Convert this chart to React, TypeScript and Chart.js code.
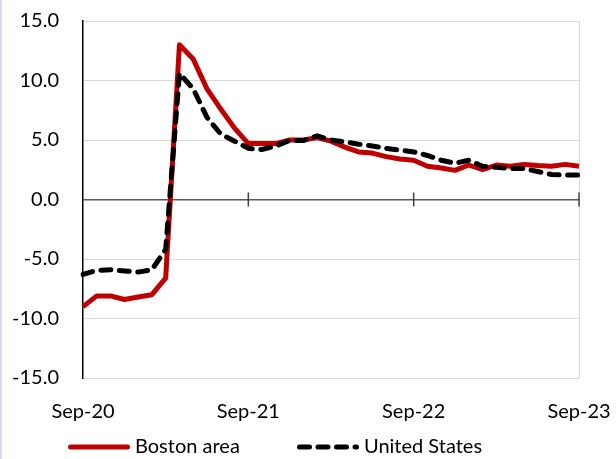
import React, { useEffect, useRef } from "react";
import { Chart, registerables } from "chart.js";

Chart.register(...registerables);

const months = [
  "Sep-20", "Oct-20", "Nov-20", "Dec-20", "Jan-21", "Feb-21", "Mar-21", "Apr-21", "May-21", "Jun-21", "Jul-21", "Aug-21",
  "Sep-21", "Oct-21", "Nov-21", "Dec-21", "Jan-22", "Feb-22", "Mar-22", "Apr-22", "May-22", "Jun-22", "Jul-22", "Aug-22",
  "Sep-22", "Oct-22", "Nov-22", "Dec-22", "Jan-23", "Feb-23", "Mar-23", "Apr-23", "May-23", "Jun-23", "Jul-23", "Aug-23",
  "Sep-23",
];

const bostonArea = [
  -9.0, -8.1, -8.1, -8.4, -8.2, -8.0, -6.6, 13.0, 11.8, 9.3, 7.6, 6.0,
  4.7, 4.7, 4.7, 5.0, 5.0, 5.2, 4.9, 4.4, 4.0, 3.9, 3.6, 3.4,
  3.3, 2.8, 2.65, 2.45, 2.9, 2.5, 2.9, 2.8, 2.95, 2.85, 2.8, 2.95,
  2.8,
];

const unitedStates = [
  -6.3, -5.95, -5.9, -6.0, -6.1, -5.9, -4.2, 10.6, 9.3, 6.9, 5.5, 4.9,
  4.3, 4.2, 4.5, 4.95, 4.95, 5.35, 5.0, 4.85, 4.65, 4.5, 4.3, 4.15,
  4.0, 3.7, 3.3, 3.05, 3.3, 2.8, 2.7, 2.6, 2.6, 2.35, 2.1, 2.05,
  2.05,
];

const seriesNames = ["Boston area", "United States"];
const yTicks = [-15, -10, -5, 0, 5, 10, 15];

const FONT = "Lato, 'Open Sans', sans-serif";
const RED = "#c00000";
const DASH = [10, 8.5];
const CLEAR = "rgba(0,0,0,0)";

const yearTicksPlugin = {
  id: "yearTicks",
  beforeDatasetsDraw(chart: any) {
    const { ctx, scales } = chart;
    const x = scales.x;
    const y = scales.y;
    const y0 = y.getPixelForValue(0);
    ctx.save();
    ctx.strokeStyle = "#404040";
    ctx.lineWidth = 1.5;
    months.forEach((m, i) => {
      if (m.startsWith("Sep") && i > 0) {
        const px = x.getPixelForValue(i);
        ctx.beginPath();
        ctx.moveTo(px, y0 - 7);
        ctx.lineTo(px, y0 + 7);
        ctx.stroke();
      }
    });
    ctx.restore();
  },
};

const legendPlugin = {
  id: "customLegend",
  afterDraw(chart: any) {
    const { ctx } = chart;
    const cy = 447;
    const items = [
      { x: 66, label: seriesNames[0], color: RED, dash: [] as number[] },
      { x: 295, label: seriesNames[1], color: "#000000", dash: DASH },
    ];
    ctx.save();
    items.forEach((it) => {
      ctx.beginPath();
      ctx.strokeStyle = it.color;
      ctx.lineWidth = 5;
      ctx.lineCap = "round";
      ctx.setLineDash(it.dash);
      ctx.moveTo(it.x + 2.5, cy);
      ctx.lineTo(it.x + 59.5, cy);
      ctx.stroke();
      ctx.setLineDash([]);
      ctx.fillStyle = "#000";
      ctx.font = `20px ${FONT}`;
      ctx.textBaseline = "middle";
      ctx.textAlign = "left";
      ctx.fillText(it.label, it.x + 67, cy);
    });
    ctx.restore();
  },
};

export default function App() {
  const ref = useRef<HTMLCanvasElement | null>(null);

  useEffect(() => {
    if (!ref.current) return;
    const chart = new Chart(ref.current, {
      type: "line",
      data: {
        labels: months,
        datasets: [
          {
            label: seriesNames[0],
            data: bostonArea,
            borderColor: RED,
            backgroundColor: RED,
            borderWidth: 5,
            pointRadius: 0,
            tension: 0,
            borderJoinStyle: "round",
            order: 1,
          },
          {
            label: seriesNames[1],
            data: unitedStates,
            borderColor: "#000000",
            backgroundColor: "#000000",
            borderWidth: 5,
            borderDash: DASH,
            borderCapStyle: "round",
            pointRadius: 0,
            tension: 0,
            order: 0,
          },
        ],
      },
      options: {
        animation: false,
        responsive: false,
        maintainAspectRatio: false,
        layout: { padding: { left: 5, right: 37, top: 21, bottom: 0 } },
        plugins: {
          legend: { display: false },
          tooltip: { enabled: false },
        },
        scales: {
          x: {
            type: "category",
            offset: false,
            grid: {
              display: true,
              drawTicks: true,
              tickLength: 22,
              tickColor: CLEAR,
              color: (c: any) => (c.index === months.length - 1 ? "#d9d9d9" : CLEAR),
              lineWidth: 1,
            },
            border: { display: false },
            ticks: {
              autoSkip: false,
              maxRotation: 0,
              minRotation: 0,
              padding: 0,
              color: "#000",
              font: { family: FONT, size: 20 },
              callback: (_v: any, i: number) => (months[i].startsWith("Sep") ? months[i] : ""),
            },
            afterFit: (s: any) => {
              s.height = 81;
            },
          },
          y: {
            min: -15,
            max: 15,
            afterBuildTicks: (s: any) => {
              s.ticks = yTicks.map((v) => ({ value: v }));
            },
            grid: {
              drawTicks: true,
              tickLength: 24,
              tickColor: CLEAR,
              color: (c: any) => (c.tick && c.tick.value === 0 ? "#595959" : "#d9d9d9"),
              lineWidth: (c: any) => (c.tick && c.tick.value === 0 ? 1.6 : 1),
            },
            border: { display: true, color: "#000", width: 1.5 },
            ticks: {
              padding: 0,
              color: "#000",
              font: { family: FONT, size: 20 },
              callback: (v: any) => Number(v).toFixed(1),
            },
            afterFit: (s: any) => {
              s.width = 76;
            },
          },
        },
      },
      plugins: [yearTicksPlugin, legendPlugin],
    });
    return () => chart.destroy();
  }, []);

  return (
    <div
      style={{
        position: "absolute",
        left: 0,
        top: 0,
        width: 616,
        height: 459,
        boxSizing: "border-box",
        borderLeft: "2px solid #d6e1f2",
        background: "#fff",
      }}
    >
      <canvas ref={ref} width={614} height={459} style={{ display: "block" }} />
    </div>
  );
}
